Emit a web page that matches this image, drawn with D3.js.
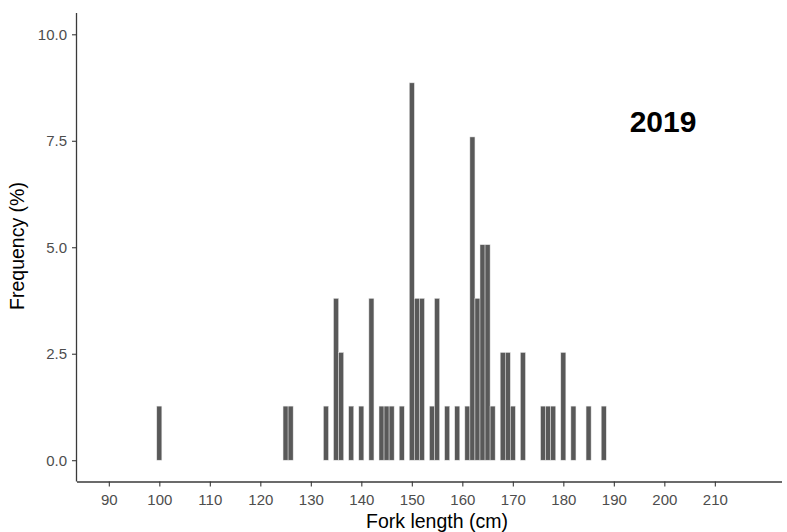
<!DOCTYPE html>
<html>
<head>
<meta charset="utf-8">
<script src="https://cdn.jsdelivr.net/npm/d3@7"></script>
<style>
  body { margin: 0; background: #fff; }
  svg { display: block; font-family: "Liberation Sans", Arial, sans-serif; }
</style>
</head>
<body>
<div id="chart"></div>
<script>
// fork length bins (cm) and frequency (%)
var lengths = [100, 125, 126, 133, 135, 136, 138, 140, 142, 144, 145, 146, 148,
               150, 151, 152, 154, 155, 157, 159, 161, 162, 163, 164, 165, 166,
               168, 169, 170, 172, 176, 177, 178, 180, 182, 185, 188];
var freqs = [1.27, 1.27, 1.27, 1.27, 3.80, 2.53, 1.27, 1.27, 3.80, 1.27, 1.27, 1.27, 1.27,
             8.86, 3.80, 3.80, 1.27, 3.80, 1.27, 1.27, 1.27, 7.59, 3.80, 5.06, 5.06, 1.27,
             2.53, 2.53, 1.27, 2.53, 1.27, 1.27, 1.27, 2.53, 1.27, 1.27, 1.27];
var xTicks = [90, 100, 110, 120, 130, 140, 150, 160, 170, 180, 190, 200, 210];
var yTicks = [0, 2.5, 5, 7.5, 10];
var yearLabel = "2019";

var width = 787, height = 532;
var svg = d3.select("#chart").append("svg")
    .attr("width", width)
    .attr("height", height);

var x = d3.scaleLinear().domain([83.7, 223.3]).range([77, 782]);
var y = d3.scaleLinear().domain([-0.5, 10.5]).range([481.5, 13]);

var data = lengths.map(function(d, i) { return {len: d, pct: freqs[i]}; });

// bars, 1 cm wide, centred on the length
var bw = x(1) - x(0);
svg.append("g").selectAll("rect")
    .data(data)
    .enter().append("rect")
    .attr("x", function(d) { return x(d.len) - bw / 2; })
    .attr("y", function(d) { return y(d.pct); })
    .attr("width", bw)
    .attr("height", function(d) { return y(0) - y(d.pct); })
    .attr("fill", "#595959")
    .attr("stroke", "#e6e6e6")
    .attr("stroke-width", 0.5);

var xAxis = d3.axisBottom(x)
    .tickValues(xTicks)
    .tickSize(5)
    .tickPadding(8)
    .tickFormat(d3.format("d"));

var yAxis = d3.axisLeft(y)
    .tickValues(yTicks)
    .tickSize(5)
    .tickPadding(5)
    .tickFormat(d3.format(".1f"));

var gx = svg.append("g")
    .attr("transform", "translate(0," + y.range()[0] + ")")
    .call(xAxis);

var gy = svg.append("g")
    .attr("transform", "translate(" + x.range()[0] + ",0)")
    .call(yAxis);

[gx, gy].forEach(function(g) {
    g.select(".domain").attr("stroke", "#3a3a3a").attr("stroke-width", 1.3);
    g.selectAll(".tick line").attr("stroke", "#3a3a3a").attr("stroke-width", 1.1);
    g.selectAll(".tick text")
        .attr("fill", "#4d4d4d")
        .style("font-size", "15px")
        .style("font-family", "'Liberation Sans', Arial, sans-serif");
});
gx.select(".domain").attr("d", "M" + x.range()[0] + ",0.5H" + x.range()[1]);
gy.select(".domain").attr("d", "M-0.5," + y.range()[0] + "V" + y.range()[1]);

// axis titles
svg.append("text")
    .attr("x", 437)
    .attr("y", 528)
    .attr("text-anchor", "middle")
    .style("font-size", "19.5px")
    .attr("fill", "#000")
    .text("Fork length (cm)");

svg.append("text")
    .attr("transform", "translate(24,246) rotate(-90)")
    .attr("text-anchor", "middle")
    .style("font-size", "19.5px")
    .attr("fill", "#000")
    .text("Frequency (%)");

// year label
svg.append("text")
    .attr("x", 663)
    .attr("y", 132)
    .attr("text-anchor", "middle")
    .style("font-size", "30px")
    .style("font-weight", "bold")
    .attr("fill", "#000")
    .text(yearLabel);
</script>
</body>
</html>
